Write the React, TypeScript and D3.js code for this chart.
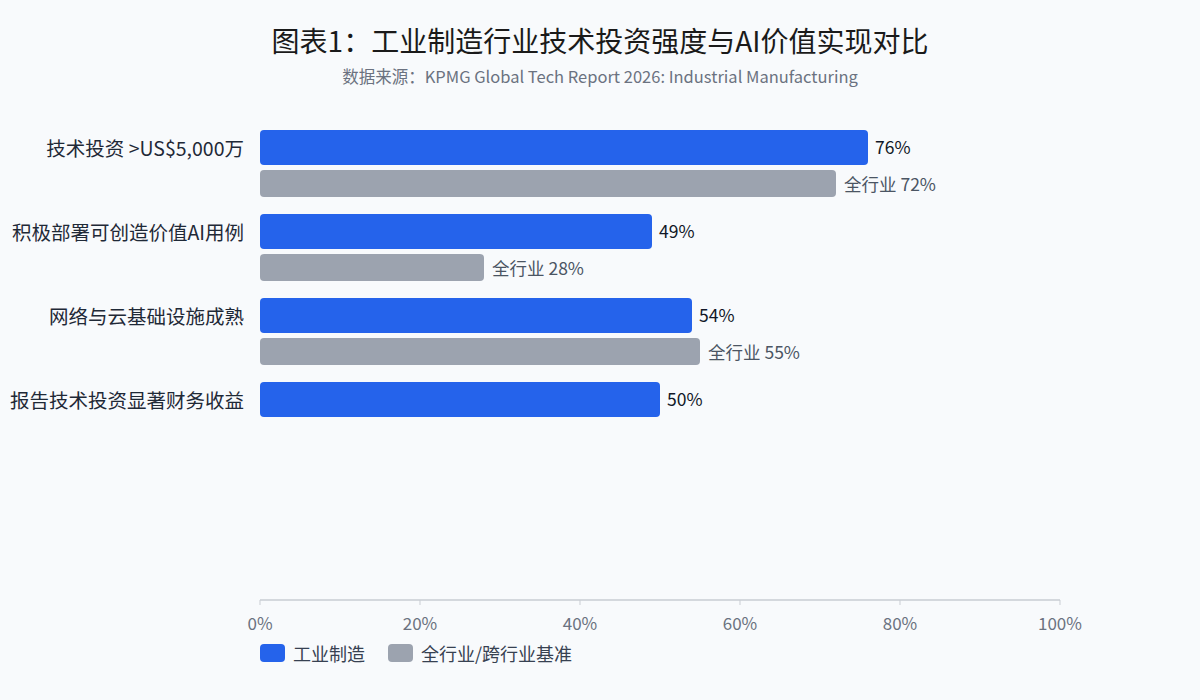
import React from "react";
import * as d3 from "d3";

const categories = [
  "技术投资 >US$5,000万",
  "积极部署可创造价值AI用例",
  "网络与云基础设施成熟",
  "报告技术投资显著财务收益",
];
const industrialValues: number[] = [76, 49, 54, 50];
const benchmarkValues: (number | null)[] = [72, 28, 55, null];
const xTicks = [0, 20, 40, 60, 80, 100];
const seriesNames = ["工业制造", "全行业/跨行业基准"];
const benchmarkPrefix = "全行业";

const W = 1200;
const H = 700;
const BLUE = "#2563EB";
const GRAY = "#9CA3AF";
const FONT = "'Noto Sans CJK SC', 'Noto Sans', sans-serif";

function roundedRightRect(x: number, y: number, w: number, h: number, r: number) {
  const rr = Math.min(r, w / 2, h / 2);
  return `M${x + rr},${y}H${x + w - rr}Q${x + w},${y} ${x + w},${y + rr}V${y + h - rr}Q${x + w},${y + h} ${x + w - rr},${y + h}H${x + rr}Q${x},${y + h} ${x},${y + h - rr}V${y + rr}Q${x},${y} ${x + rr},${y}Z`;
}

export default function App() {
  const x = d3.scaleLinear().domain([0, 100]).range([260, 1060]);
  const y = d3.scaleBand<string>().domain(categories).range([130, 466]).paddingInner(0).paddingOuter(0);
  const blueH = 35;
  const grayH = 27;
  const gap = 5;
  const axisY = 600;

  return (
    <svg width={W} height={H} style={{ display: "block", position: "absolute", left: 0, top: 0, background: "#F8FAFC" }} fontFamily={FONT}>
      <rect x={0} y={0} width={W} height={H} fill="#F8FAFC" />
      <text x={600} y={52} textAnchor="middle" fontSize={28} fill="#1a1a1a">
        图表1：工业制造行业技术投资强度与AI价值实现对比
      </text>
      <text x={600} y={83} textAnchor="middle" fontSize={16.5} fill="#6B7280">
        数据来源：KPMG Global Tech Report 2026: Industrial Manufacturing
      </text>

      {categories.map((c, i) => {
        const y0 = y(c)!;
        const v = industrialValues[i];
        const b = benchmarkValues[i];
        return (
          <g key={c}>
            <text x={244} y={y0 + blueH / 2} textAnchor="end" dominantBaseline="central" fontSize={19.5} fill="#1F2937">
              {c}
            </text>
            <path d={roundedRightRect(x(0), y0, x(v) - x(0), blueH, 4)} fill={BLUE} />
            <text x={x(v) + 7} y={y0 + blueH / 2 - 1} dominantBaseline="central" fontSize={17.5} fill="#111827">
              {v}%
            </text>
            {b !== null && (
              <g>
                <path d={roundedRightRect(x(0), y0 + blueH + gap, x(b) - x(0), grayH, 4)} fill={GRAY} />
                <text x={x(b) + 8} y={y0 + blueH + gap + grayH / 2} dominantBaseline="central" fontSize={17.5} fill="#4B5563">
                  {benchmarkPrefix} {b}%
                </text>
              </g>
            )}
          </g>
        );
      })}

      <line x1={x(0)} x2={x(100)} y1={axisY} y2={axisY} stroke="#C9CDD3" strokeWidth={1.5} />
      {xTicks.map((t) => (
        <g key={t}>
          <line x1={x(t)} x2={x(t)} y1={axisY} y2={axisY + 5} stroke="#C9CDD3" strokeWidth={1} />
          <text x={x(t)} y={axisY + 22} textAnchor="middle" dominantBaseline="central" fontSize={17} fill="#6B7280">
            {t}%
          </text>
        </g>
      ))}

      {seriesNames.map((s, i) => {
        const lx = i === 0 ? 260 : 388;
        return (
          <g key={s}>
            <rect x={lx} y={644} width={25} height={18} rx={4} fill={i === 0 ? BLUE : GRAY} />
            <text x={lx + 33} y={653} dominantBaseline="central" fontSize={18} fill="#374151">
              {s}
            </text>
          </g>
        );
      })}
    </svg>
  );
}
